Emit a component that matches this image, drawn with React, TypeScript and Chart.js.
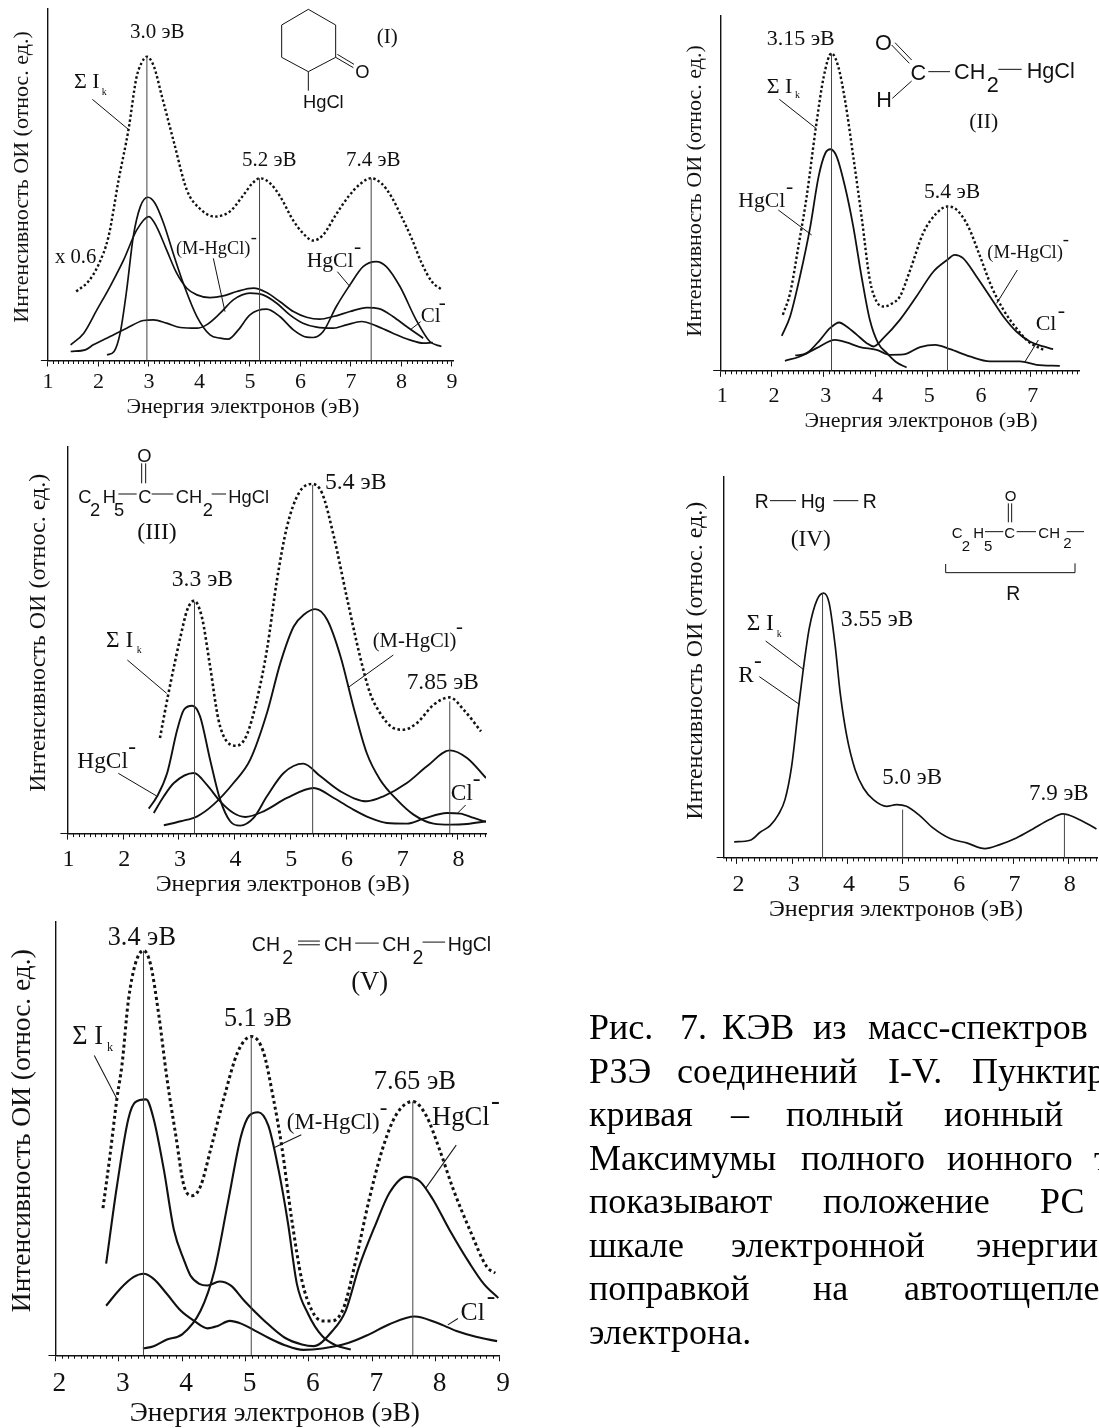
import React, { useEffect, useRef } from "react";
import { Chart, registerables } from "chart.js";

Chart.register(...registerables);

const xTitle = "Энергия электронов (эВ)";
const yTitle = "Интенсивность ОИ (относ. ед.)";
const SERIF = "'Liberation Serif', serif";
const SANS = "'Liberation Sans', sans-serif";
const INK = "#111";

// ---------- Panel I ----------
const e1Sum = [1.56,1.8,2.0,2.2,2.4,2.6,2.75,2.85,2.96,3.1,3.25,3.5,3.75,4.0,4.3,4.6,4.85,5.05,5.2,5.4,5.6,5.85,6.05,6.25,6.45,6.7,6.95,7.2,7.4,7.6,7.8,8.0,8.2,8.4,8.6,8.8];
const v1Sum = [207,237,287,372,542,697,847,892,912,882,797,652,512,457,432,447,492,532,547,532,492,422,382,360,377,437,492,532,547,532,492,432,367,292,237,212];
const e1Hg = [2.17,2.31,2.43,2.56,2.69,2.83,2.98,3.12,3.29,3.48,3.68,3.95,4.21,4.41,4.57,4.77,5.0,5.33,5.59,5.86,6.12,6.25,6.45,6.71,6.98,7.24,7.5,7.7,7.97,8.29,8.56,8.79];
const v1Hg = [17,27,82,212,372,462,490,472,412,322,232,132,77,67,64,92,137,154,132,92,70,69,87,162,227,282,297,282,222,122,57,42];
const e1M = [1.45,1.71,1.97,2.23,2.5,2.76,3.0,3.15,3.35,3.55,3.75,3.95,4.21,4.47,4.74,5.07,5.33,5.59,5.86,6.12,6.38,6.65,6.98,7.31,7.57,7.83,8.1,8.43];
const v1M = [47,82,152,222,302,392,432,402,332,262,217,197,189,194,207,217,204,177,147,130,124,132,147,159,155,132,102,67];
const e1Cl = [1.45,1.74,1.9,2.23,2.56,2.89,3.09,3.35,3.62,3.95,4.14,4.41,4.67,5.0,5.26,5.53,5.79,6.05,6.32,6.65,6.91,7.21,7.5,7.83,8.16,8.43,8.62];
const v1Cl = [27,32,47,72,97,120,122,112,99,97,107,142,182,202,197,172,137,112,100,97,107,117,104,82,62,52,54];
const peaks1E = [2.96,5.19,7.4];
const peaks1V = [912,547,547];

// ---------- Panel II ----------
const e2Sum = [2.21,2.35,2.51,2.67,2.85,3.0,3.15,3.28,3.41,3.57,3.73,3.89,4.02,4.15,4.31,4.47,4.67,4.92,5.18,5.39,5.57,5.79,6.02,6.24,6.47,6.72,6.95,7.24];
const v2Sum = [168,233,373,523,733,883,953,913,813,643,463,273,208,193,201,223,303,413,473,493,483,433,343,253,183,128,88,63];
const e2Hg = [2.19,2.35,2.54,2.74,2.9,3.03,3.13,3.25,3.41,3.57,3.73,3.89,4.05,4.22,4.41,4.6];
const v2Hg = [105,163,283,433,583,653,665,643,553,433,283,153,83,53,25,10];
const e2M = [2.45,2.67,2.93,3.12,3.3,3.44,3.64,3.83,3.96,4.15,4.47,4.79,5.12,5.37,5.53,5.69,5.95,6.21,6.47,6.72,6.98,7.24,7.43];
const v2M = [46,53,93,128,145,133,108,83,73,98,153,223,298,331,348,338,283,223,163,118,88,73,65];
const e2Cl = [2.25,2.54,2.86,3.22,3.44,3.7,4.02,4.28,4.54,4.86,5.15,5.44,5.82,6.21,6.79,7.11,7.56];
const v2Cl = [30,43,68,93,85,71,63,48,49,71,78,65,43,28,28,18,15];
const peaks2E = [3.15,5.39];
const peaks2V = [953,493];

// ---------- Panel III ----------
const e3Sum = [2.66,2.82,3.03,3.15,3.27,3.41,3.56,3.71,3.86,4.04,4.22,4.4,4.58,4.76,4.94,5.15,5.39,5.57,5.78,6.01,6.25,6.43,6.61,6.85,7.03,7.27,7.57,7.86,8.11,8.42];
const v3Sum = [287,427,592,672,699,652,502,342,277,264,297,402,552,762,922,1022,1050,1022,892,712,532,422,362,317,312,332,387,409,372,307];
const e3Hg = [2.46,2.61,2.79,2.97,3.09,3.24,3.38,3.56,3.74,3.92,4.1,4.34,4.58,4.88,5.23,5.54,5.9,6.37,6.67,7.09,7.45,7.86,8.17,8.51];
const v3Hg = [75,112,182,312,372,384,352,222,102,37,24,47,112,182,210,172,127,97,112,152,202,250,227,167];
const e3Cl = [2.55,2.73,2.91,3.27,3.5,3.74,3.98,4.19,4.52,4.94,5.42,5.78,6.13,6.43,6.73,7.09,7.39,7.81,8.05,8.29,8.51];
const v3Cl = [62,112,152,182,147,97,62,50,67,107,137,107,72,47,32,30,45,62,60,47,35];
const e3M = [2.73,3.03,3.33,3.62,3.98,4.28,4.58,4.82,5.06,5.24,5.45,5.66,5.9,6.13,6.37,6.61,6.91,7.21,7.57,7.87,8.17,8.51];
const v3M = [25,37,52,87,152,222,362,512,622,657,674,642,532,382,242,162,102,57,30,27,29,37];
const peaks3E = [3.28,5.4,7.86];
const peaks3V = [697,1047,397];

// ---------- Panel IV ----------
const e4Sum = [1.95,2.24,2.42,2.6,2.75,2.87,2.99,3.11,3.2,3.31,3.45,3.57,3.67,3.78,3.87,3.99,4.14,4.29,4.47,4.71,4.89,5.07,5.31,5.55,5.86,6.16,6.49,6.76,7.06,7.36,7.66,7.9,8.14,8.51];
const v4Sum = [48,53,77,97,130,175,275,445,565,690,775,795,765,635,495,365,265,210,175,155,160,155,127,90,58,45,28,40,60,87,115,132,120,87];
const peaks4E = [3.55,5.0,7.93];
const peaks4V = [795,145,130];

// ---------- Panel V ----------
const e5Sum = [2.75,2.86,2.97,3.05,3.15,3.26,3.39,3.5,3.63,3.76,3.9,4.03,4.16,4.29,4.45,4.67,4.88,5.09,5.28,5.44,5.57,5.73,5.89,6.05,6.21,6.37,6.55,6.74,6.95,7.16,7.37,7.64,7.85,8.06,8.28,8.54,8.81,8.94];
const v5Sum = [437,592,762,862,1052,1162,1202,1162,1012,822,652,502,474,502,612,772,902,947,902,762,622,402,222,132,102,102,142,282,462,612,712,754,712,612,492,372,262,244];
const e5Hg = [2.8,2.97,3.15,3.26,3.43,3.55,3.71,3.87,4.03,4.13,4.27,4.4,4.59,4.77,4.98,5.3,5.62,5.89,6.07,6.37,6.58,6.79,7.06,7.27,7.53,7.75,7.96,8.22,8.54,8.76,8.99];
const v5Hg = [272,502,702,752,760,702,552,372,282,237,212,207,219,207,162,102,52,32,27,72,132,262,392,482,530,517,462,372,272,212,170];
const e5Cl = [2.8,3.02,3.23,3.39,3.55,3.76,3.98,4.19,4.4,4.56,4.75,4.93,5.14,5.36,5.62,5.91,6.21,6.63,6.95,7.27,7.67,8.01,8.33,8.65,8.97];
const v5Cl = [147,197,232,242,227,182,132,102,80,87,102,94,74,52,30,16,20,37,62,92,115,97,72,54,42];
const e5M = [3.38,3.55,3.76,4.0,4.29,4.51,4.72,4.93,5.06,5.2,5.36,5.52,5.67,5.81,5.99,6.21,6.42,6.66];
const v5M = [20,27,47,62,132,252,452,652,712,722,682,552,392,212,122,57,30,17];
const peaks5E = [3.39,5.09,7.64];
const peaks5V = [1202,947,754];

type Curve = { e: number[]; v: number[]; dotted?: boolean };
type PanelCfg = {
  xMin: number; xMax: number; axisX: number; pxPerEv: number; top: number; base: number; unit: number;
  size: number; titleX: number; titleY: number; xTitleX: number; xTitleY: number; tickY: number; labelShift: number;
  curves: Curve[]; peakE: number[]; peakV: number[]; lw: number; dotW: number;
};

const panels: PanelCfg[] = [
  { xMin: 1, xMax: 9.02, axisX: 47.7, pxPerEv: 50.58, top: 8, base: 360.7, unit: 3, size: 22, titleX: 22, titleY: 177, xTitleX: 243, xTitleY: 407, tickY: 22, labelShift: 0,
    curves: [{ e: e1Sum, v: v1Sum, dotted: true }, { e: e1Hg, v: v1Hg }, { e: e1M, v: v1M }, { e: e1Cl, v: v1Cl }], peakE: peaks1E, peakV: peaks1V, lw: 1.7, dotW: 2.4 },
  { xMin: 1, xMax: 7.93, axisX: 720, pxPerEv: 51.83, top: 15, base: 371, unit: 3, size: 22, titleX: 695, titleY: 191, xTitleX: 921, xTitleY: 421, tickY: 25, labelShift: 2,
    curves: [{ e: e2Sum, v: v2Sum, dotted: true }, { e: e2Hg, v: v2Hg }, { e: e2M, v: v2M }, { e: e2Cl, v: v2Cl }], peakE: peaks2E, peakV: peaks2V, lw: 1.8, dotW: 2.4 },
  { xMin: 1, xMax: 8.51, axisX: 67, pxPerEv: 55.77, top: 446, base: 834, unit: 3, size: 24, titleX: 38, titleY: 633, xTitleX: 282.5, xTitleY: 885, tickY: 26, labelShift: 1,
    curves: [{ e: e3Sum, v: v3Sum, dotted: true }, { e: e3Hg, v: v3Hg }, { e: e3Cl, v: v3Cl }, { e: e3M, v: v3M }], peakE: peaks3E, peakV: peaks3V, lw: 1.9, dotW: 2.6 },
  { xMin: 1.76, xMax: 8.52, axisX: 723.3, pxPerEv: 55.33, top: 476, base: 858.3, unit: 3, size: 24, titleX: 695, titleY: 661, xTitleX: 896, xTitleY: 910, tickY: 27, labelShift: 1.5,
    curves: [{ e: e4Sum, v: v4Sum }], peakE: peaks4E, peakV: peaks4V, lw: 1.7, dotW: 2.4 },
  { xMin: 2, xMax: 9, axisX: 55, pxPerEv: 63.4, top: 920.9, base: 1355.2, unit: 2.97, size: 27.4, titleX: 22, titleY: 1130.6, xTitleX: 274.5, xTitleY: 1413.5, tickY: 29, labelShift: 4,
    curves: [{ e: e5Sum, v: v5Sum, dotted: true }, { e: e5Hg, v: v5Hg }, { e: e5Cl, v: v5Cl }, { e: e5M, v: v5M }], peakE: peaks5E, peakV: peaks5V, lw: 2.1, dotW: 3 },
];

const zip = (e: number[], v: number[]) => e.map((x, i) => ({ x, y: v[i] }));

const minorTicks = {
  id: "minorTicks",
  afterDraw(chart: any) {
    const sx = chart.scales.x;
    const { ctx, chartArea } = chart;
    ctx.save();
    ctx.strokeStyle = INK;
    ctx.lineWidth = 1;
    ctx.beginPath();
    for (let n = Math.ceil(sx.min * 10); n <= Math.floor(sx.max * 10); n++) {
      if (n % 10 === 0) continue;
      const p = Math.round(sx.getPixelForValue(n / 10)) + 0.5;
      ctx.moveTo(p, chartArea.bottom);
      ctx.lineTo(p, chartArea.bottom + 3.5);
    }
    ctx.stroke();
    ctx.restore();
  },
};

function shiftTitle(scale: any, dx: number, dy: number) {
  if (scale.__shifted) return;
  scale.__shifted = true;
  const original = scale.drawTitle;
  scale.drawTitle = function (...args: any[]) {
    const { left, right, top, bottom } = this;
    this.left = left + dx; this.right = right + dx;
    this.top = top + dy; this.bottom = bottom + dy;
    original.apply(this, args);
    this.left = left; this.right = right; this.top = top; this.bottom = bottom;
  };
}

function Panel({ cfg }: { cfg: PanelCfg }) {
  const ref = useRef<HTMLCanvasElement>(null);
  const lineH = cfg.size * 1.2;
  const canvasLeft = cfg.titleX - lineH / 2;
  const yWidth = cfg.axisX - canvasLeft;
  const areaW = (cfg.xMax - cfg.xMin) * cfg.pxPerEv;
  const areaH = cfg.base - cfg.top;
  const xH = cfg.xTitleY - cfg.base + lineH / 2;
  const width = yWidth + areaW + 16;
  const height = areaH + xH;

  useEffect(() => {
    const curveSets = cfg.curves.map((c) => ({
      data: zip(c.e, c.v),
      borderColor: INK,
      borderWidth: c.dotted ? cfg.dotW : cfg.lw,
      borderDash: c.dotted ? [cfg.dotW, cfg.dotW] : [],
      cubicInterpolationMode: "monotone",
      pointRadius: 0,
      fill: false,
    }));
    const peakSets = cfg.peakE.map((e, i) => ({
      data: [{ x: e, y: 0 }, { x: e, y: cfg.peakV[i] }],
      borderColor: "#444",
      borderWidth: 1,
      pointRadius: 0,
      tension: 0,
    }));
    const chart = new Chart(ref.current as HTMLCanvasElement, {
      type: "line",
      data: { datasets: [...peakSets, ...curveSets] as any },
      plugins: [minorTicks],
      options: {
        animation: false,
        responsive: false,
        devicePixelRatio: 1,
        layout: { padding: { left: 0, top: 0, bottom: 0, right: 16 } },
        plugins: { legend: { display: false }, tooltip: { enabled: false } },
        scales: {
          x: {
            type: "linear",
            min: cfg.xMin,
            max: cfg.xMax,
            grid: { drawOnChartArea: false, tickLength: 6, color: INK, lineWidth: 1 },
            border: { color: INK, width: 1.4 },
            ticks: {
              stepSize: 1,
              includeBounds: false,
              autoSkip: false,
              maxRotation: 0,
              color: INK,
              labelOffset: cfg.labelShift,
              padding: cfg.tickY - 6 - lineH / 2,
              font: { family: SERIF, size: cfg.size },
              callback: (v: any) => String(v),
            },
            title: { display: true, text: xTitle, color: INK, padding: 0, font: { family: SERIF, size: cfg.size } },
            afterFit(s: any) {
              s.height = xH;
              shiftTitle(s, cfg.xTitleX - (cfg.axisX + areaW / 2), 0);
            },
          },
          y: {
            min: 0,
            max: areaH * cfg.unit,
            grid: { drawOnChartArea: false, tickLength: 7, color: INK, lineWidth: 1 },
            border: { color: INK, width: 1.4 },
            ticks: { display: false },
            afterBuildTicks(s: any) { s.ticks = [{ value: 0 }]; },
            title: { display: true, text: yTitle, color: INK, padding: 0, font: { family: SERIF, size: cfg.size } },
            afterFit(s: any) {
              s.width = yWidth;
              shiftTitle(s, 0, cfg.titleY - (cfg.top + areaH / 2));
            },
          },
        },
      } as any,
    });
    return () => chart.destroy();
  }, []);

  return (
    <canvas
      ref={ref}
      width={width}
      height={height}
      style={{ position: "absolute", left: canvasLeft, top: cfg.top, width, height }}
    />
  );
}

function T({ x, y, s = 62, a = "start", f = SERIF, children }: any) {
  return (
    <text x={x} y={y} fontSize={s} textAnchor={a} fontFamily={f} fill={INK}>
      {children}
    </text>
  );
}
function L({ p }: { p: number[] }) {
  const d = p.reduce((acc, n, i) => acc + (i % 2 === 0 ? (i ? " L" : "M") : " ") + n, "");
  return <path d={d} fill="none" stroke={INK} strokeWidth={3} />;
}
function Group({ x, y, k = 3, children }: any) {
  return <g transform={`translate(${x} ${y}) scale(${1 / k})`}>{children}</g>;
}
function Sigma({ x, y, s, kx, ky, ks = 30 }: any) {
  return (
    <>
      <T x={x} y={y} s={s}>Σ I</T>
      <T x={kx} y={ky} s={ks}>k</T>
    </>
  );
}

const captionWords: [string, number][][] = [
  [["Рис.", 589], ["7.", 680], ["КЭВ", 722], ["из", 813], ["масс-спектров", 868]],
  [["РЗЭ", 589], ["соединений", 677], ["I-V.", 888], ["Пунктир", 972]],
  [["кривая", 589], ["–", 731], ["полный", 786], ["ионный", 944]],
  [["Максимумы", 589], ["полного", 801], ["ионного", 947], ["т", 1094]],
  [["показывают", 589], ["положение", 823], ["РС", 1040]],
  [["шкале", 589], ["электронной", 731], ["энергии", 976]],
  [["поправкой", 589], ["на", 813], ["автоотщепле", 904]],
  [["электрона.", 589]],
];
const captionBase = [1039, 1082.5, 1126, 1169.5, 1213, 1256.5, 1300, 1343.5];

function Overlay() {
  return (
    <svg width={1099} height={1428} style={{ position: "absolute", left: 0, top: 0, pointerEvents: "none" }}>
      {/* Panel I */}
      <Group x={0} y={0}>
        <T x={472} y={115} a="middle" s={63}>3.0 эВ</T>
        <T x={808} y={498} a="middle" s={63}>5.2 эВ</T>
        <T x={1120} y={498} a="middle" s={63}>7.4 эВ</T>
        <T x={165} y={790} s={62}>x 0.6</T>
        <Sigma x={222} y={265} s={66} kx={305} ky={285} />
        <T x={528} y={763} s={55}>(M-HgCl)</T><T x={752} y={728} s={55}>-</T>
        <T x={920} y={800} s={65}>HgCl</T><T x={1062} y={758} s={65}>-</T>
        <T x={1262} y={967} s={63}>Cl</T><T x={1316} y={928} s={63}>-</T>
        <L p={[277, 298, 385, 388]} /><L p={[640, 775, 675, 935]} /><L p={[1012, 815, 1050, 860]} /><L p={[1262, 965, 1230, 990]} />
        <L p={[925, 28, 1007, 75, 1007, 172, 925, 215, 845, 172, 845, 75, 925, 28]} />
        <L p={[1007, 172, 1060, 203]} /><L p={[1012, 163, 1062, 193]} />
        <L p={[925, 215, 925, 272]} />
        <T x={1087} y={233} a="middle" f={SANS} s={55}>O</T>
        <T x={970} y={325} a="middle" f={SANS} s={55}>HgCl</T>
        <T x={1162} y={128} a="middle" s={63}>(I)</T>
      </Group>
      {/* Panel II */}
      <Group x={670} y={0}>
        <T x={290} y={135} s={66}>3.15 эВ</T>
        <T x={762} y={595} s={65}>5.4 эВ</T>
        <Sigma x={290} y={278} s={66} kx={375} ky={295} />
        <T x={205} y={622} s={65}>HgCl</T><T x={348} y={580} s={65}>-</T>
        <T x={952} y={775} s={56}>(M-HgCl)</T><T x={1178} y={735} s={56}>-</T>
        <T x={1097} y={990} s={66}>Cl</T><T x={1163} y={950} s={66}>-</T>
        <T x={898} y={385} s={65}>(II)</T>
        <L p={[328, 298, 438, 385]} /><L p={[325, 630, 425, 705]} /><L p={[1042, 810, 980, 910]} /><L p={[1105, 1020, 1065, 1085]} />
        <T x={640} y={150} a="middle" f={SANS} s={65}>O</T>
        <T x={745} y={240} a="middle" f={SANS} s={65}>C</T>
        <T x={642} y={320} a="middle" f={SANS} s={65}>H</T>
        <T x={852} y={238} f={SANS} s={65}>CH</T>
        <T x={950} y={275} f={SANS} s={65}>2</T>
        <T x={1070} y={235} f={SANS} s={65}>HgCl</T>
        <L p={[665, 135, 718, 190]} /><L p={[675, 128, 725, 180]} /><L p={[667, 295, 725, 243]} />
        <L p={[775, 215, 840, 215]} /><L p={[985, 208, 1055, 208]} />
      </Group>
      {/* Panel III */}
      <Group x={0} y={430}>
        <T x={975} y={178} s={71}>5.4 эВ</T>
        <T x={515} y={468} s={71}>3.3 эВ</T>
        <T x={1220} y={778} s={70}>7.85 эВ</T>
        <Sigma x={318} y={650} s={70} kx={410} ky={668} />
        <T x={1118} y={652} s={62}>(M-HgCl)</T><T x={1368} y={610} s={62}>-</T>
        <T x={232} y={1015} s={70}>HgCl</T><T x={385} y={972} s={70}>-</T>
        <T x={1352} y={1110} s={70}>Cl</T><T x={1418} y={1068} s={70}>-</T>
        <T x={412} y={328} s={71}>(III)</T>
        <L p={[382, 690, 500, 790]} /><L p={[1180, 675, 1045, 772]} /><L p={[355, 1030, 470, 1098]} /><L p={[1372, 1150, 1397, 1125]} />
        <T x={433} y={95} a="middle" f={SANS} s={55}>O</T>
        <L p={[425, 100, 425, 160]} /><L p={[437, 100, 437, 160]} />
        <T x={235} y={220} f={SANS} s={55}>C</T><T x={270} y={258} f={SANS} s={55}>2</T>
        <T x={308} y={220} f={SANS} s={55}>H</T><T x={342} y={258} f={SANS} s={55}>5</T>
        <L p={[355, 192, 410, 192]} />
        <T x={415} y={220} f={SANS} s={55}>C</T>
        <L p={[455, 192, 520, 192]} />
        <T x={527} y={220} f={SANS} s={55}>CH</T><T x={608} y={258} f={SANS} s={55}>2</T>
        <L p={[635, 192, 678, 192]} />
        <T x={685} y={220} f={SANS} s={55}>HgCl</T>
      </Group>
      {/* Panel IV */}
      <Group x={670} y={460}>
        <T x={513} y={497} s={70}>3.55 эВ</T>
        <T x={637} y={973} s={69}>5.0 эВ</T>
        <T x={1077} y={1020} s={69}>7.9 эВ</T>
        <Sigma x={230} y={510} s={70} kx={320} ky={530} />
        <T x={205} y={665} s={70}>R</T><T x={252} y={625} s={70}>-</T>
        <T x={362} y={258} s={70}>(IV)</T>
        <L p={[287, 543, 400, 628]} /><L p={[268, 650, 388, 733]} />
        <T x={254} y={143} f={SANS} s={58}>R</T>
        <L p={[300, 122, 378, 122]} />
        <T x={392} y={143} f={SANS} s={58}>Hg</T>
        <L p={[490, 122, 565, 122]} />
        <T x={578} y={143} f={SANS} s={58}>R</T>
        <T x={1022} y={122} a="middle" f={SANS} s={45}>O</T>
        <L p={[1015, 130, 1015, 187]} /><L p={[1025, 130, 1025, 187]} />
        <T x={845} y={235} f={SANS} s={45}>C</T><T x={875} y={272} f={SANS} s={45}>2</T>
        <T x={910} y={235} f={SANS} s={45}>H</T><T x={942} y={272} f={SANS} s={45}>5</T>
        <L p={[945, 215, 1000, 215]} />
        <T x={1003} y={235} f={SANS} s={45}>C</T>
        <L p={[1040, 215, 1098, 215]} />
        <T x={1105} y={235} f={SANS} s={45}>CH</T><T x={1180} y={265} f={SANS} s={45}>2</T>
        <L p={[1190, 215, 1242, 215]} />
        <L p={[827, 312, 827, 338, 1215, 338, 1215, 310]} />
        <T x={1030} y={420} a="middle" f={SANS} s={58}>R</T>
      </Group>
      {/* Panel V */}
      <Group x={0} y={900} k={2.97}>
        <T x={320} y={135} s={78}>3.4 эВ</T>
        <T x={665} y={375} s={78}>5.1 эВ</T>
        <T x={1110} y={560} s={79}>7.65 эВ</T>
        <Sigma x={215} y={428} s={78} kx={318} ky={450} ks={36} />
        <T x={852} y={680} s={68}>(M-HgCl)</T><T x={1128} y={640} s={68}>-</T>
        <T x={1283} y={668} s={79}>HgCl</T><T x={1458} y={620} s={79}>-</T>
        <T x={1368} y={1248} s={76}>Cl</T><T x={1446} y={1200} s={76}>-</T>
        <T x={1043} y={268} s={79}>(V)</T>
        <L p={[280, 462, 347, 590]} /><L p={[895, 697, 815, 735]} /><L p={[1355, 728, 1265, 855]} /><L p={[1360, 1243, 1330, 1262]} />
        <T x={748} y={152} f={SANS} s={58}>CH</T><T x={838} y={190} f={SANS} s={58}>2</T>
        <L p={[885, 122, 950, 122]} /><L p={[885, 133, 950, 133]} />
        <T x={962} y={152} f={SANS} s={58}>CH</T>
        <L p={[1055, 128, 1125, 128]} />
        <T x={1135} y={152} f={SANS} s={58}>CH</T><T x={1225} y={190} f={SANS} s={58}>2</T>
        <L p={[1255, 125, 1322, 125]} />
        <T x={1330} y={152} f={SANS} s={58}>HgCl</T>
      </Group>
      {/* Caption */}
      {captionWords.map((line, i) =>
        line.map(([w, x]) => (
          <text key={`${i}-${x}`} x={x} y={captionBase[i]} fontSize={36} fontFamily={SERIF} fill="#000">
            {w}
          </text>
        ))
      )}
    </svg>
  );
}

export default function App() {
  return (
    <div style={{ position: "absolute", left: 0, top: 0, width: 1099, height: 1428, overflow: "hidden", background: "#fff" }}>
      {panels.map((p, i) => (
        <Panel key={i} cfg={p} />
      ))}
      <Overlay />
    </div>
  );
}
